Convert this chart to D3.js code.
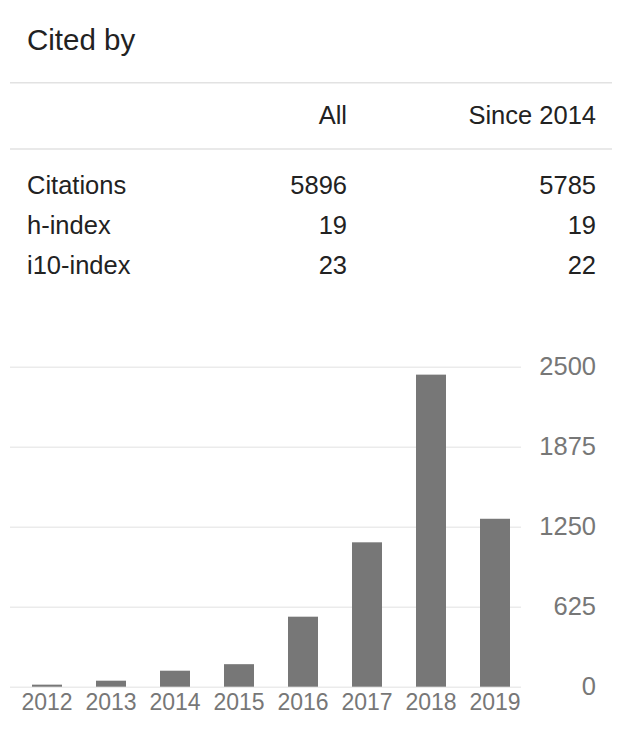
<!DOCTYPE html>
<html>
<head>
<meta charset="utf-8">
<script src="https://cdn.jsdelivr.net/npm/d3@7"></script>
<style>
  body { margin: 0; background: #fff; }
  svg text { font-family: "Liberation Sans", Arial, Helvetica, sans-serif; }
</style>
</head>
<body>
<div id="chart"></div>
<script>
// table data
const columns = ["All", "Since 2014"];
const rowNames = ["Citations", "h-index", "i10-index"];
const allValues = [5896, 19, 23];
const sinceValues = [5785, 19, 22];

// citations per year
const years = ["2012", "2013", "2014", "2015", "2016", "2017", "2018", "2019"];
const citations = [16, 47, 125, 176, 547, 1128, 2438, 1312];
const yTicks = [0, 625, 1250, 1875, 2500];

const width = 644, height = 742;
const svg = d3.select("#chart").append("svg")
    .attr("width", width)
    .attr("height", height);

// ---- header / table ----
svg.append("text")
    .attr("x", 27)
    .attr("y", 50)
    .attr("font-size", "29.5px")
    .attr("fill", "#222")
    .text("Cited by");

[82.7, 149].forEach(y => {
    svg.append("line")
        .attr("x1", 10).attr("x2", 612)
        .attr("y1", y).attr("y2", y)
        .attr("stroke", "#e2e2e2")
        .attr("stroke-width", 1.5);
});

const colX = [347, 596];
svg.selectAll("text.colhead")
    .data(columns)
    .enter().append("text")
    .attr("class", "colhead")
    .attr("x", (d, i) => colX[i])
    .attr("y", 124)
    .attr("text-anchor", "end")
    .attr("font-size", "25.5px")
    .attr("fill", "#222")
    .text(d => d);

const rowY = d3.scalePoint().domain(rowNames).range([194, 274]);

rowNames.forEach((name, i) => {
    const g = svg.append("g").attr("transform", `translate(0,${rowY(name)})`);
    g.append("text").attr("x", 27).text(name);
    g.append("text").attr("x", colX[0]).attr("text-anchor", "end").text(allValues[i]);
    g.append("text").attr("x", colX[1]).attr("text-anchor", "end").text(sinceValues[i]);
    g.selectAll("text").attr("font-size", "25.5px").attr("fill", "#222");
});

// ---- bar chart ----
const plotLeft = 10, plotRight = 521;
const yTop = 366.7, yBottom = 686.7;

const x = d3.scaleBand()
    .domain(years)
    .range([15, 527])
    .paddingInner(34 / 64)
    .paddingOuter(17 / 64);

const y = d3.scaleLinear()
    .domain([0, 2500])
    .range([yBottom, yTop]);

// grid + y labels
const yAxis = svg.append("g")
    .attr("transform", `translate(${plotLeft},0)`)
    .call(d3.axisRight(y)
        .tickValues(yTicks)
        .tickFormat(d3.format("d"))
        .tickSize(plotRight - plotLeft)
        .tickPadding(0));
yAxis.select(".domain").remove();
yAxis.selectAll(".tick line")
    .attr("stroke", "#ebebeb")
    .attr("stroke-width", 1.4);
yAxis.selectAll(".tick text")
    .attr("x", 596 - plotLeft)
    .attr("text-anchor", "end")
    .attr("font-size", "25.5px")
    .attr("fill", "#777");

svg.append("g")
    .selectAll("rect")
    .data(years)
    .enter().append("rect")
    .attr("x", d => x(d))
    .attr("width", x.bandwidth())
    .attr("y", (d, i) => y(citations[i]))
    .attr("height", (d, i) => yBottom - y(citations[i]))
    .attr("fill", "#777777");

// x labels
const xAxis = svg.append("g")
    .attr("transform", `translate(0,${yBottom})`)
    .call(d3.axisBottom(x).tickSize(0).tickPadding(0));
xAxis.select(".domain").remove();
xAxis.selectAll(".tick text")
    .attr("y", 23.5)
    .attr("dy", 0)
    .attr("font-size", "23px")
    .attr("fill", "#777");
</script>
</body>
</html>
